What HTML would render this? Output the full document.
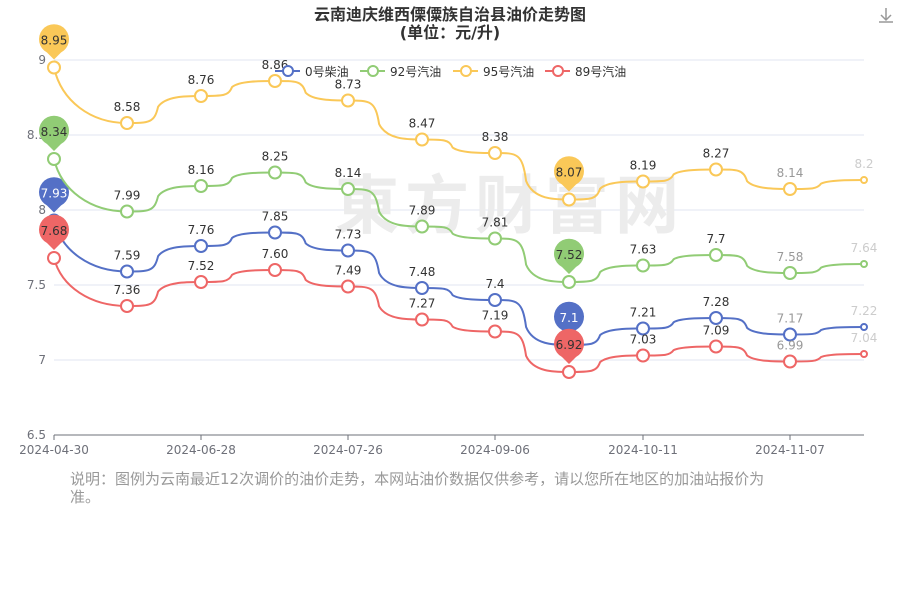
<!DOCTYPE html><html><head><meta charset="utf-8"><style>body{margin:0;background:#fff}svg{font-family:"DejaVu Sans","Noto Sans CJK SC",sans-serif}</style></head><body>
<svg id="s" width="900" height="600" xmlns="http://www.w3.org/2000/svg">
<text x="450" y="20" text-anchor="middle" font-size="16" font-weight="bold" fill="#333">云南迪庆维西傈僳族自治县油价走势图</text>
<text x="450" y="38" text-anchor="middle" font-size="16" font-weight="bold" fill="#333">(单位：元/升)</text>
<g stroke="#e0e6f1" stroke-width="1">
<line x1="54" x2="864" y1="60" y2="60"/><line x1="54" x2="864" y1="135" y2="135"/><line x1="54" x2="864" y1="210" y2="210"/><line x1="54" x2="864" y1="285" y2="285"/><line x1="54" x2="864" y1="360" y2="360"/></g>
<line x1="54" x2="864" y1="435" y2="435" stroke="#6e7079"/>
<g font-size="12" fill="#6e7079" text-anchor="end"><text x="46" y="64">9</text><text x="46" y="139">8.5</text><text x="46" y="214">8</text><text x="46" y="289">7.5</text><text x="46" y="364">7</text><text x="46" y="439">6.5</text></g>
<g font-size="12" fill="#6e7079" text-anchor="middle"><text x="54" y="454">2024-04-30</text><text x="201" y="454">2024-06-28</text><text x="348" y="454">2024-07-26</text><text x="495" y="454">2024-09-06</text><text x="643" y="454">2024-10-11</text><text x="790" y="454">2024-11-07</text></g>
<g stroke="#6e7079"><line x1="54" x2="54" y1="435" y2="440"/><line x1="201" x2="201" y1="435" y2="440"/><line x1="348" x2="348" y1="435" y2="440"/><line x1="495" x2="495" y1="435" y2="440"/><line x1="643" x2="643" y1="435" y2="440"/><line x1="790" x2="790" y1="435" y2="440"/></g>
<text x="510" y="228" text-anchor="middle" font-size="64" fill="#ececec" font-weight="bold" letter-spacing="6">東方财富网</text>
<g id="series"></g>
<g font-size="12" fill="#333">
<line x1="275" x2="300" y1="71" y2="71" stroke="#5470c6" stroke-width="2"/><circle cx="288" cy="71" r="5" fill="#fff" stroke="#5470c6" stroke-width="2"/><text x="305" y="76">0号柴油</text>
<line x1="360" x2="385" y1="71" y2="71" stroke="#91cc75" stroke-width="2"/><circle cx="373" cy="71" r="5" fill="#fff" stroke="#91cc75" stroke-width="2"/><text x="390" y="76">92号汽油</text>
<line x1="453" x2="478" y1="71" y2="71" stroke="#fac858" stroke-width="2"/><circle cx="466" cy="71" r="5" fill="#fff" stroke="#fac858" stroke-width="2"/><text x="483" y="76">95号汽油</text>
<line x1="545" x2="570" y1="71" y2="71" stroke="#ee6666" stroke-width="2"/><circle cx="558" cy="71" r="5" fill="#fff" stroke="#ee6666" stroke-width="2"/><text x="575" y="76">89号汽油</text></g>
<text x="70" y="484" font-size="15" fill="#999">说明：图例为云南最近12次调价的油价走势，本网站油价数据仅供参考，请以您所在地区的加油站报价为</text>
<text x="70" y="502" font-size="15" fill="#999">准。</text>
<g stroke="#999" fill="none" stroke-width="1.5"><path d="M886 8v12M881 15l5 5 5-5M879 22h14"/></g>
</svg>
<script>
var X=[54,127,201,275,348,422,495,569,643,716,790,864];
var S=[["#5470c6",["7.93","7.59","7.76","7.85","7.73","7.48","7.4","7.1","7.21","7.28","7.17","7.22"],"#fff"],
["#91cc75",["8.34","7.99","8.16","8.25","8.14","7.89","7.81","7.52","7.63","7.7","7.58","7.64"],"#333"],
["#fac858",["8.95","8.58","8.76","8.86","8.73","8.47","8.38","8.07","8.19","8.27","8.14","8.2"],"#333"],
["#ee6666",["7.68","7.36","7.52","7.60","7.49","7.27","7.19","6.92","7.03","7.09","6.99","7.04"],"#333"]];
function Y(v){return 60+(9-parseFloat(v))*150}
var h="";
S.forEach(function(s){var c=s[0],d=s[1];var p="M"+X[0]+" "+Y(d[0]);
for(var i=1;i<12;i++){var dx=X[i]-X[i-1],a=X[i-1],b=X[i],y0=Y(d[i-1]),y1=Y(d[i]);
if(i==1){p+=" C"+(a+dx*0.1)+" "+(y0+(y1-y0)*0.6)+" "+(b-dx*0.5)+" "+y1+" "+b+" "+y1;}
else{var m=a+dx*0.42,ym=y0+(y1-y0)*0.6;p+=" C"+(a+dx*0.3)+" "+y0+" "+(m-dx*0.05)+" "+y0+" "+m+" "+ym+" C"+(m+dx*0.1)+" "+(ym+(y1-y0)*0.4)+" "+(b-dx*0.2)+" "+y1+" "+b+" "+y1;}}
h+='<path d="'+p+'" fill="none" stroke="'+c+'" stroke-width="2"/>';
for(var i=0;i<12;i++){var r=i==11?3:6;h+='<circle cx="'+X[i]+'" cy="'+Y(d[i])+'" r="'+r+'" fill="#fff" stroke="'+c+'" stroke-width="2"/>';
var col=i>=10?"#999":"#333";if(i==11)col="#ccc";
if(i!=0&&i!=7)h+='<text x="'+X[i]+'" y="'+(Y(d[i])-12)+'" text-anchor="middle" font-size="12" fill="'+col+'">'+d[i]+'</text>';}
[0,7].forEach(function(i){var x=X[i],y=Y(d[i]);var cy=y-28;
h+='<path d="M'+(x-7)+' '+(cy+13)+' A15 15 0 1 1 '+(x+7)+' '+(cy+13)+' L'+x+' '+(y-8)+' Z" fill="'+c+'"/>';
h+='<text x="'+x+'" y="'+(cy+5)+'" text-anchor="middle" font-size="12" fill="'+s[2]+'">'+d[i]+'</text>';});
});
document.getElementById("series").innerHTML=h;
</script>
</body></html>
